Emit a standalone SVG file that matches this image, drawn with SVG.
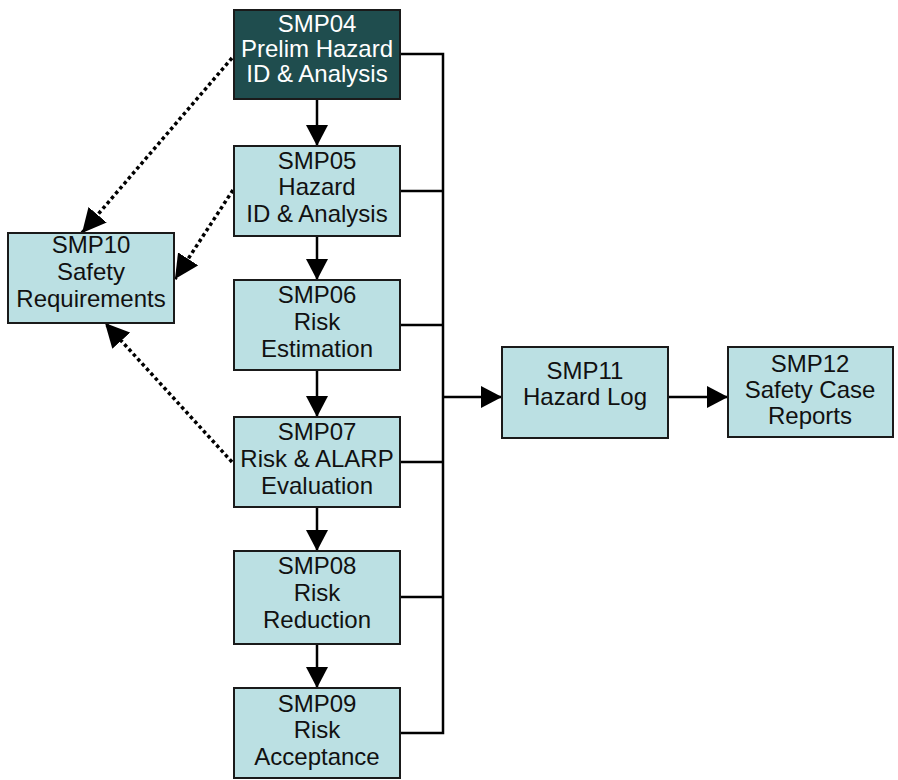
<svg xmlns="http://www.w3.org/2000/svg" width="898" height="780" viewBox="0 0 898 780">
<style>
.box{fill:#bbe0e3;stroke:#1a1a1a;stroke-width:2}
.dark{fill:#1f4d4e;stroke:#1a1a1a;stroke-width:2}
text{font-family:"Liberation Sans",Arial,sans-serif;font-size:24px;text-anchor:middle;fill:#111}
.w{fill:#ffffff}
.ln{fill:none;stroke:#000;stroke-width:2.5}
.dot{fill:none;stroke:#000;stroke-width:3.5;stroke-dasharray:3.5 3}
</style>
<defs>
<marker id="ah" markerUnits="userSpaceOnUse" markerWidth="22" markerHeight="22" refX="21" refY="11" orient="auto" viewBox="0 0 22 22">
<path d="M0,0 L21,11 L0,22 z" fill="#000"/>
</marker>
<marker id="ahd" markerUnits="userSpaceOnUse" markerWidth="25" markerHeight="24" refX="24" refY="12" orient="auto" viewBox="0 0 25 24">
<path d="M0,0 L24,12 L0,24 z" fill="#000"/>
</marker>
</defs>
<rect width="898" height="780" fill="#fff"/>
<g id="connectors">
<line class="ln" x1="317" y1="99" x2="317" y2="146" marker-end="url(#ah)"/>
<line class="ln" x1="317" y1="236" x2="317" y2="280" marker-end="url(#ah)"/>
<line class="ln" x1="317" y1="370" x2="317" y2="417" marker-end="url(#ah)"/>
<line class="ln" x1="317" y1="507" x2="317" y2="551" marker-end="url(#ah)"/>
<line class="ln" x1="317" y1="644" x2="317" y2="688" marker-end="url(#ah)"/>
<path class="ln" d="M400,54 H443 V733 H400 M400,191 H443 M400,325 H443 M400,462 H443 M400,597 H443"/>
<line class="ln" x1="443" y1="397" x2="502" y2="397" marker-end="url(#ah)"/>
<line class="ln" x1="668" y1="397" x2="728" y2="397" marker-end="url(#ah)"/>
<line class="dot" x1="232" y1="58" x2="82" y2="233" marker-end="url(#ahd)"/>
<line class="dot" x1="233" y1="190" x2="175" y2="279" marker-end="url(#ahd)"/>
<line class="dot" x1="232" y1="462" x2="105" y2="323" marker-end="url(#ahd)"/>
</g>
<g id="SMP04">
<rect class="dark" x="234" y="10" width="166" height="89"/>
<text class="w" x="317" y="32">SMP04</text>
<text class="w" x="317" y="57">Prelim Hazard</text>
<text class="w" x="317" y="82">ID &amp; Analysis</text>
</g>
<g id="SMP05">
<rect class="box" x="234" y="146" width="166" height="90"/>
<text x="317" y="169">SMP05</text>
<text x="317" y="195">Hazard</text>
<text x="317" y="222">ID &amp; Analysis</text>
</g>
<g id="SMP06">
<rect class="box" x="234" y="280" width="166" height="90"/>
<text x="317" y="303">SMP06</text>
<text x="317" y="330">Risk</text>
<text x="317" y="357">Estimation</text>
</g>
<g id="SMP07">
<rect class="box" x="234" y="417" width="166" height="90"/>
<text x="317" y="440">SMP07</text>
<text x="317" y="467">Risk &amp; ALARP</text>
<text x="317" y="494">Evaluation</text>
</g>
<g id="SMP08">
<rect class="box" x="234" y="551" width="166" height="93"/>
<text x="317" y="574">SMP08</text>
<text x="317" y="601">Risk</text>
<text x="317" y="628">Reduction</text>
</g>
<g id="SMP09">
<rect class="box" x="234" y="688" width="166" height="90"/>
<text x="317" y="712">SMP09</text>
<text x="317" y="738">Risk</text>
<text x="317" y="765">Acceptance</text>
</g>
<g id="SMP10">
<rect class="box" x="8" y="233" width="166" height="90"/>
<text x="91" y="253">SMP10</text>
<text x="91" y="280">Safety</text>
<text x="91" y="307">Requirements</text>
</g>
<g id="SMP11">
<rect class="box" x="502" y="347" width="166" height="91"/>
<text x="585" y="379">SMP11</text>
<text x="585" y="405">Hazard Log</text>
</g>
<g id="SMP12">
<rect class="box" x="728" y="347" width="165" height="90"/>
<text x="810" y="372">SMP12</text>
<text x="810" y="398">Safety Case</text>
<text x="810" y="424">Reports</text>
</g>
</svg>
